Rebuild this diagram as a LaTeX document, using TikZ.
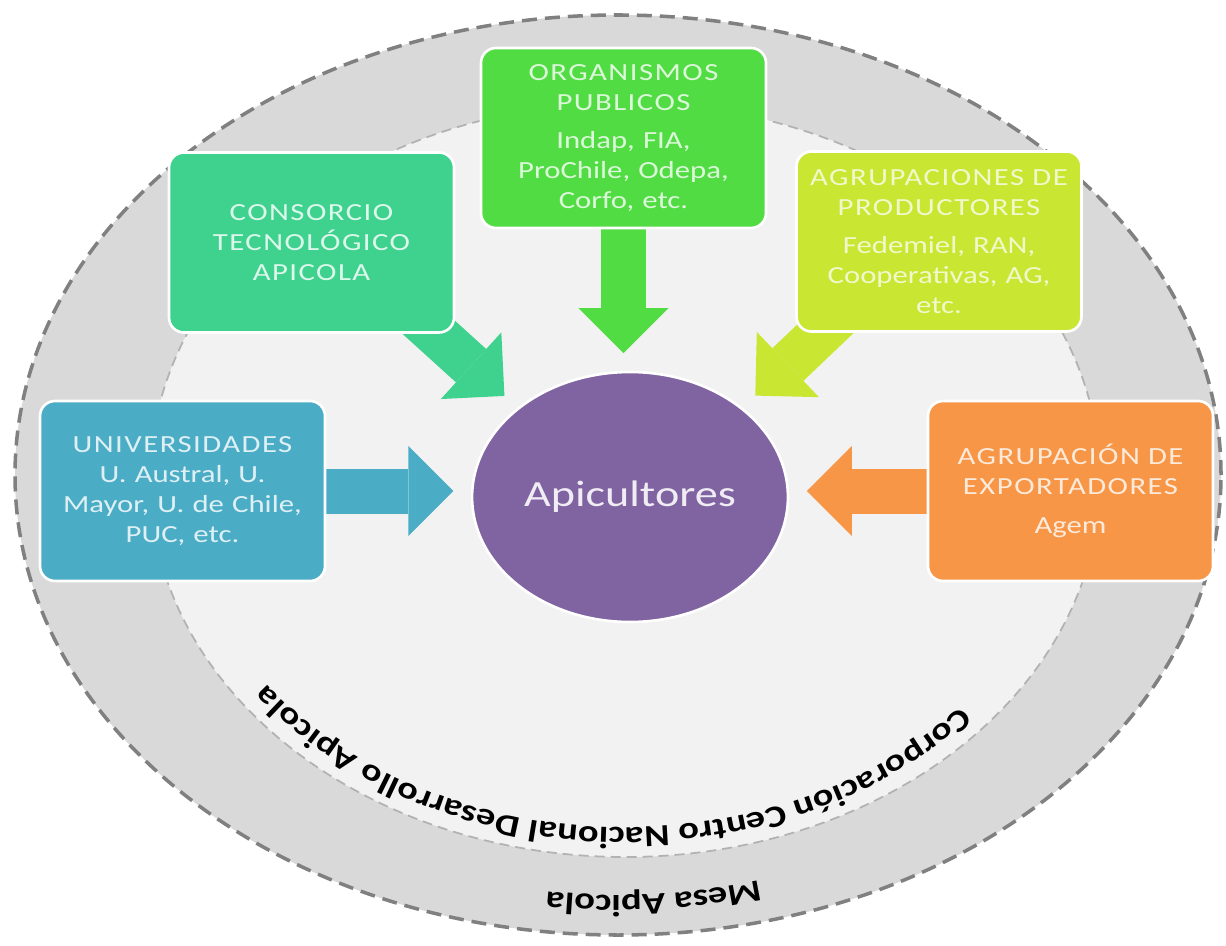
\documentclass[tikz,border=0pt]{standalone}
\usepackage{fontspec}
\setmainfont{Carlito}[FakeStretch=1.25]
\newfontfamily\capsfont{Carlito}[FakeStretch=1.25,LetterSpace=6]
\usetikzlibrary{arrows.meta,calc,backgrounds,shapes.geometric,decorations.text}
\definecolor{univcol}{HTML}{4BACC6}
\definecolor{conscol}{HTML}{3FD28E}
\definecolor{orgcol}{HTML}{52DC43}
\definecolor{prodcol}{HTML}{C9E632}
\definecolor{expocol}{HTML}{F79646}
\definecolor{apicol}{HTML}{8064A2}
\definecolor{ringcol}{HTML}{D9D9D9}
\definecolor{innercol}{HTML}{F2F2F2}
\newcommand{\ringfont}{\bfseries\fontsize{17.5}{20}\selectfont}
\tikzstyle{grupo}=[rectangle, rounded corners=0.3cm, draw=white, line width=1.5pt, minimum width=5.7cm, minimum height=3.6cm, text width=5.5cm, align=center, inner sep=0pt, font=\fontsize{14}{17}\selectfont]
\tikzstyle{flecha}=[line width=0.9cm, -{Triangle[length=0.9cm,width=1.8cm,line width=0pt]}, shorten >=0.35cm]
\tikzstyle{anillo}=[decorate, decoration={text along path, text align=center}]

\begin{document}
\begin{tikzpicture}
	\useasboundingbox (0,0) rectangle (24.52,18.9);
	\coordinate (mesa) at (12.36,9.4);
	\coordinate (cnda) at (12.5,9.3);

	\node[ellipse, fill=apicol, draw=white, line width=1.5pt, minimum width=6.2cm, minimum height=5cm, text=white!88!apicol, font=\fontsize{21}{24}\selectfont](api) at (12.6,8.96){Apicultores};

	\node[grupo, fill=univcol, text=white!82!univcol](univ) at (3.65,9.08){\capsfont UNIVERSIDADES\\ \rmfamily U. Austral, U.\\ Mayor, U. de Chile,\\ PUC, etc.};
	\node[grupo, fill=conscol, text=white!82!conscol](cons) at (6.23,14.05){\capsfont CONSORCIO\\ TECNOLÓGICO\\ APICOLA};
	\node[grupo, fill=orgcol, text=white!80!orgcol](org) at (12.47,16.14){\capsfont ORGANISMOS\\ PUBLICOS\\[5pt] \rmfamily Indap, FIA,\\ ProChile, Odepa,\\ Corfo, etc.};
	\node[grupo, fill=prodcol, text=white!75!prodcol](prod) at (18.78,14.07){\capsfont AGRUPACIONES DE\\ PRODUCTORES\\[5pt] \rmfamily Fedemiel, RAN,\\ Cooperativas, AG,\\ etc.};
	\node[grupo, fill=expocol, text=white!80!expocol](expo) at (21.41,9.08){\capsfont AGRUPACIÓN DE\\ EXPORTADORES\\[5pt] \rmfamily Agem};

	\coordinate (ctail) at ($(cons.south east)+(-1.05,0.6)$);
	\coordinate (ptail) at ($(prod.south west)+(1.15,0.6)$);

	\begin{scope}[on background layer]
		\draw[fill=ringcol, draw=black!50, line width=2pt, dash pattern=on 0.3cm off 0.16cm] (mesa) ellipse [x radius=12.06, y radius=9.2];
		\draw[fill=innercol, draw=black!30, line width=1pt, dash pattern=on 0.2cm off 0.12cm] (cnda) ellipse [x radius=9.5, y radius=7.54];
		\path[anillo, decoration={text={|\ringfont|Corporación Centro Nacional Desarrollo Apicola}}] ($(cnda)+(-25:8.85 and 6.95)$) arc [start angle=-25, end angle=-160, x radius=8.85, y radius=6.95];
		\path[anillo, decoration={text={|\ringfont|Mesa Apicola}}] ($(mesa)+(-55:10.8 and 8.4)$) arc [start angle=-55, end angle=-117, x radius=10.8, y radius=8.4];

		\draw[flecha, univcol] (univ.east) -- (univ.east -| api.west);
		\draw[flecha, expocol] (expo.west) -- (expo.west -| api.east);
		\draw[flecha, orgcol] (org.south) -- (org.south |- api.north);
		\draw[flecha, conscol] (ctail) -- (api.north west);
		\draw[flecha, prodcol] (ptail) -- (api.north east);
	\end{scope}
\end{tikzpicture}
\end{document}
